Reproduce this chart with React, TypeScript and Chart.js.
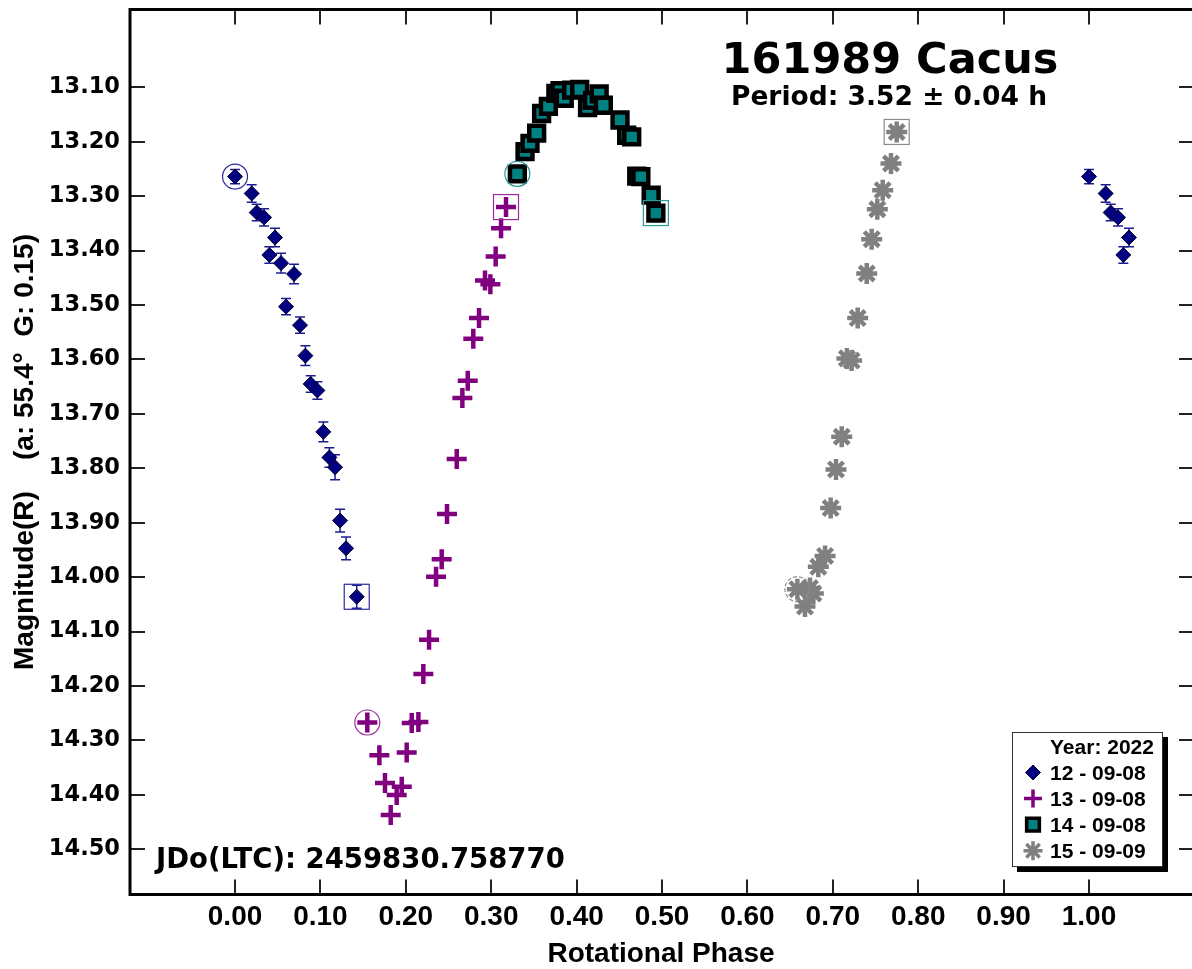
import React, { useEffect, useRef } from 'react';
import { Chart, registerables } from 'chart.js';
import { drawPoint } from 'chart.js/helpers';

Chart.register(...registerables);

// ---------- data ----------
const chartTitle = '161989 Cacus';
const periodText = 'Period: 3.52 \u00B1 0.04 h';
const jdText = 'JDo(LTC): 2459830.758770';
const xAxisTitle = 'Rotational Phase';
const yAxisTitle = 'Magnitude(R)    (a: 55.4\u00B0  G: 0.15)';
const legendTitle = 'Year: 2022';
const seriesLabels = ['12 - 09-08', '13 - 09-08', '14 - 09-08', '15 - 09-09'];

const s12Phase = [0.0, 0.0195, 0.0254, 0.034, 0.0402, 0.0468, 0.0539, 0.0597, 0.0691, 0.0761, 0.0824, 0.0886, 0.0964, 0.1034, 0.1105, 0.1171, 0.123, 0.13, 0.1425];
const s12Mag = [13.264, 13.295, 13.33, 13.339, 13.408, 13.376, 13.423, 13.503, 13.443, 13.537, 13.593, 13.645, 13.657, 13.733, 13.78, 13.798, 13.896, 13.947, 14.036];
const s12Err = [0.013, 0.016, 0.015, 0.016, 0.015, 0.017, 0.018, 0.015, 0.018, 0.015, 0.018, 0.015, 0.016, 0.018, 0.018, 0.023, 0.021, 0.021, 0.021];

const s13Phase = [0.1549, 0.169, 0.1756, 0.1823, 0.1893, 0.1952, 0.201, 0.2069, 0.2147, 0.2205, 0.2272, 0.2354, 0.242, 0.2482, 0.2596, 0.2662, 0.2725, 0.279, 0.2857, 0.2927, 0.299, 0.3052, 0.3115, 0.3173];
const s13Mag = [14.267, 14.327, 14.378, 14.437, 14.4, 14.385, 14.322, 14.268, 14.266, 14.178, 14.115, 13.999, 13.967, 13.884, 13.783, 13.671, 13.639, 13.562, 13.524, 13.455, 13.462, 13.411, 13.359, 13.32];

const s14Phase = [0.3306, 0.3396, 0.3454, 0.3532, 0.359, 0.3669, 0.3757, 0.3806, 0.3855, 0.3942, 0.4036, 0.4128, 0.4186, 0.4264, 0.4313, 0.4508, 0.4586, 0.4645, 0.4704, 0.4752, 0.4873, 0.4928];
const s14Mag = [13.259, 13.218, 13.203, 13.184, 13.148, 13.135, 13.111, 13.106, 13.12, 13.105, 13.104, 13.137, 13.124, 13.112, 13.133, 13.16, 13.188, 13.191, 13.263, 13.264, 13.298, 13.331];

const s15Phase = [0.6585, 0.6674, 0.6733, 0.6772, 0.683, 0.6909, 0.6975, 0.7037, 0.7104, 0.7165, 0.722, 0.7291, 0.7397, 0.7455, 0.7521, 0.7584, 0.7681, 0.7748];
const s15Mag = [14.022, 14.054, 14.02, 14.03, 13.981, 13.961, 13.873, 13.802, 13.742, 13.598, 13.602, 13.524, 13.442, 13.379, 13.324, 13.289, 13.24, 13.182];

const xTickValues = [0.0, 0.1, 0.2, 0.3, 0.4, 0.5, 0.6, 0.7, 0.8, 0.9, 1.0];
const yTickValues = [13.1, 13.2, 13.3, 13.4, 13.5, 13.6, 13.7, 13.8, 13.9, 14.0, 14.1, 14.2, 14.3, 14.4, 14.5];
const xMin = -0.123;
const xMax = 1.1206;
const yMin = 12.957;
const yMax = 14.583;
const wrapLimit = 1.05;

// ---------- styles ----------
const DEJAVU = "'DejaVu Sans', sans-serif";
const LIB = "'Liberation Sans', Arial, sans-serif";
const colNavy = '#000080';
const colPurple = '#800080';
const colTeal = '#008080';
const colGray = '#808080';
const ringColors = ['#2b2ba0', '#9a2b9a', '#2a9a9a', '#8c8c8c'];

const toPts = (ph: number[], mg: number[]) => ph.map((p, i) => ({ x: p, y: mg[i] }));
const wrapIdx = s12Phase.map((p, i) => i).filter((i) => s12Phase[i] + 1 <= wrapLimit);

const styles = [
  { pointStyle: 'rectRot', radius: 7.5, backgroundColor: colNavy, borderColor: '#000030', borderWidth: 1 },
  { pointStyle: 'cross', radius: 10, backgroundColor: colPurple, borderColor: colPurple, borderWidth: 4.5 },
  { pointStyle: 'rect', radius: 10.5, backgroundColor: colTeal, borderColor: '#000000', borderWidth: 4.5 },
  { pointStyle: 'star', radius: 10.5, backgroundColor: colGray, borderColor: colGray, borderWidth: 4.5 },
];

const mkDs = (label: string, data: any[], st: any) => ({
  label,
  data,
  showLine: false,
  pointStyle: st.pointStyle,
  pointRadius: st.radius,
  pointBackgroundColor: st.backgroundColor,
  pointBorderColor: st.borderColor,
  pointBorderWidth: st.borderWidth,
  pointHoverRadius: st.radius,
});

const seriesPts = [
  toPts(s12Phase, s12Mag),
  toPts(s13Phase, s13Mag),
  toPts(s14Phase, s14Mag),
  toPts(s15Phase, s15Mag),
];

const datasets: any[] = [
  mkDs(seriesLabels[0], seriesPts[0], styles[0]),
  mkDs(seriesLabels[1], seriesPts[1], styles[1]),
  mkDs(seriesLabels[2], seriesPts[2], styles[2]),
  mkDs(seriesLabels[3], seriesPts[3], styles[3]),
  mkDs(seriesLabels[0] + ' (wrap)', wrapIdx.map((i) => ({ x: s12Phase[i] + 1, y: s12Mag[i] })), styles[0]),
];

const errorMap: Record<number, number[]> = {
  0: s12Err,
  4: wrapIdx.map((i) => s12Err[i]),
};

// ---------- plugins ----------
const errorBarsPlugin = {
  id: 'errorBars',
  beforeDatasetsDraw(chart: any) {
    const { ctx, scales } = chart;
    const y = scales.y;
    ctx.save();
    ctx.strokeStyle = '#1c1c90';
    ctx.lineWidth = 1.5;
    Object.keys(errorMap).forEach((k) => {
      const di = Number(k);
      const errs = errorMap[di];
      const meta = chart.getDatasetMeta(di);
      const data = chart.data.datasets[di].data as any[];
      meta.data.forEach((el: any, i: number) => {
        const m = data[i].y;
        const e = errs[i];
        const y1 = y.getPixelForValue(m - e);
        const y2 = y.getPixelForValue(m + e);
        ctx.beginPath();
        ctx.moveTo(el.x, y1);
        ctx.lineTo(el.x, y2);
        ctx.moveTo(el.x - 5, y1);
        ctx.lineTo(el.x + 5, y1);
        ctx.moveTo(el.x - 5, y2);
        ctx.lineTo(el.x + 5, y2);
        ctx.stroke();
      });
    });
    ctx.restore();
  },
};

const framePlugin = {
  id: 'frame',
  afterDatasetsDraw(chart: any) {
    const { ctx, chartArea, scales } = chart;
    const { left, top, bottom } = chartArea;
    // the right frame edge of the original sits just beyond the picture
    const right = chartArea.right + 2;
    ctx.save();
    // series start / end markers
    seriesPts.forEach((pts, si) => {
      const first = pts[0];
      const last = pts[pts.length - 1];
      ctx.strokeStyle = ringColors[si];
      ctx.lineWidth = 1.2;
      ctx.setLineDash(si === 3 ? [4, 2] : []);
      ctx.beginPath();
      ctx.arc(scales.x.getPixelForValue(first.x), scales.y.getPixelForValue(first.y), 12.5, 0, Math.PI * 2);
      ctx.stroke();
      ctx.setLineDash([]);
      const lx = scales.x.getPixelForValue(last.x);
      const ly = scales.y.getPixelForValue(last.y);
      ctx.strokeRect(lx - 12.5, ly - 12.5, 25, 25);
    });
    // inward ticks
    ctx.strokeStyle = '#222';
    ctx.lineWidth = 2;
    ctx.beginPath();
    xTickValues.forEach((v) => {
      const px = Math.round(scales.x.getPixelForValue(v));
      ctx.moveTo(px, bottom);
      ctx.lineTo(px, bottom - 15);
      ctx.moveTo(px, top);
      ctx.lineTo(px, top + 15);
    });
    yTickValues.forEach((v) => {
      const py = Math.round(scales.y.getPixelForValue(v));
      ctx.moveTo(left, py);
      ctx.lineTo(left + 15, py);
      ctx.moveTo(right, py);
      ctx.lineTo(right - 15, py);
    });
    ctx.stroke();
    // frame
    ctx.strokeStyle = '#000';
    ctx.lineWidth = 3;
    ctx.strokeRect(left, top, right - left, bottom - top);
    ctx.restore();
  },
};

const annotationsPlugin = {
  id: 'annotations',
  afterDraw(chart: any) {
    const { ctx } = chart;
    ctx.save();
    ctx.fillStyle = '#000';
    ctx.textBaseline = 'alphabetic';
    ctx.textAlign = 'center';
    ctx.font = `bold 43px ${DEJAVU}`;
    ctx.fillText(chartTitle, 890, 73);
    ctx.font = `bold 26.5px ${DEJAVU}`;
    ctx.fillText(periodText, 889, 105);
    ctx.textAlign = 'left';
    ctx.font = `bold 27.5px ${DEJAVU}`;
    ctx.fillText(jdText, 156, 868);

    // legend
    const bx = 1012, by = 732, bw = 151, bh = 135;
    ctx.fillStyle = '#000';
    ctx.fillRect(bx + 5, by + 5, bw, bh);
    ctx.fillStyle = '#fff';
    ctx.fillRect(bx, by, bw, bh);
    ctx.strokeStyle = '#333';
    ctx.lineWidth = 1;
    ctx.strokeRect(bx + 0.5, by + 0.5, bw - 1, bh - 1);
    ctx.fillStyle = '#000';
    ctx.font = `bold 21px ${LIB}`;
    ctx.textAlign = 'left';
    ctx.fillText(legendTitle, 1050, 754);
    const legendSizes = [7.5, 9, 9, 9.5];
    const legendBw = [1, 3.5, 3.5, 3.5];
    seriesLabels.forEach((lab, i) => {
      const base = 780 + i * 26.1;
      const st = styles[i];
      ctx.fillStyle = st.backgroundColor;
      ctx.strokeStyle = st.borderColor;
      ctx.lineWidth = legendBw[i];
      drawPoint(ctx, { pointStyle: st.pointStyle as any, rotation: 0, radius: legendSizes[i], borderWidth: legendBw[i] }, 1033, base - 7.5);
      ctx.fillStyle = '#000';
      ctx.font = `bold 21px ${LIB}`;
      ctx.fillText(lab, 1050, base);
    });
    ctx.restore();
  },
};

const zeroPad = (s: any) => {
  s.paddingTop = 0;
  s.paddingBottom = 0;
  s.paddingLeft = 0;
  s.paddingRight = 0;
};

export default function App() {
  const ref = useRef<HTMLCanvasElement>(null);
  useEffect(() => {
    document.body.style.margin = '0';
    const chart = new Chart(ref.current as HTMLCanvasElement, {
      type: 'scatter',
      data: { datasets },
      options: {
        animation: false,
        responsive: false,
        devicePixelRatio: 1,
        layout: { autoPadding: false, padding: { top: 9.5, right: 0, left: 0, bottom: 0 } },
        plugins: { legend: { display: false }, tooltip: { enabled: false } },
        scales: {
          x: {
            type: 'linear',
            min: xMin,
            max: xMax,
            afterBuildTicks: (s: any) => {
              s.ticks = xTickValues.map((v) => ({ value: v }));
            },
            afterFit: (s: any) => {
              s.height = 74.5;
              zeroPad(s);
            },
            grid: { display: false, drawTicks: false },
            border: { display: false },
            ticks: {
              autoSkip: false,
              maxRotation: 0,
              padding: 7,
              color: '#000',
              font: { family: LIB, size: 28, weight: 'bold', lineHeight: 1.1 },
              callback: (v: any) => Number(v).toFixed(2),
            },
            title: {
              display: true,
              text: xAxisTitle,
              color: '#000',
              font: { family: LIB, size: 28, weight: 'bold', lineHeight: 1 },
              padding: { top: 0, bottom: 1 },
            },
          },
          y: {
            type: 'linear',
            reverse: true,
            min: yMin,
            max: yMax,
            afterBuildTicks: (s: any) => {
              s.ticks = yTickValues.map((v) => ({ value: v }));
            },
            afterFit: (s: any) => {
              s.width = 130;
              zeroPad(s);
            },
            grid: { display: false, drawTicks: false },
            border: { display: false },
            ticks: {
              autoSkip: false,
              padding: 10,
              color: '#000',
              font: { family: DEJAVU, size: 22.5, weight: 'bold', lineHeight: 1.2 },
              callback: (v: any) => Number(v).toFixed(2),
            },
            title: {
              display: true,
              text: yAxisTitle,
              color: '#000',
              font: { family: LIB, size: 28, weight: 'bold', lineHeight: 1 },
              padding: { top: 11, bottom: 0 },
            },
          },
        },
      } as any,
      plugins: [errorBarsPlugin, framePlugin, annotationsPlugin],
    });
    return () => chart.destroy();
  }, []);
  return (
    <div style={{ position: 'absolute', left: 0, top: 0, width: 1192, height: 969, background: '#fff' }}>
      <canvas ref={ref} width={1192} height={969} style={{ display: 'block', width: 1192, height: 969 }} />
    </div>
  );
}
